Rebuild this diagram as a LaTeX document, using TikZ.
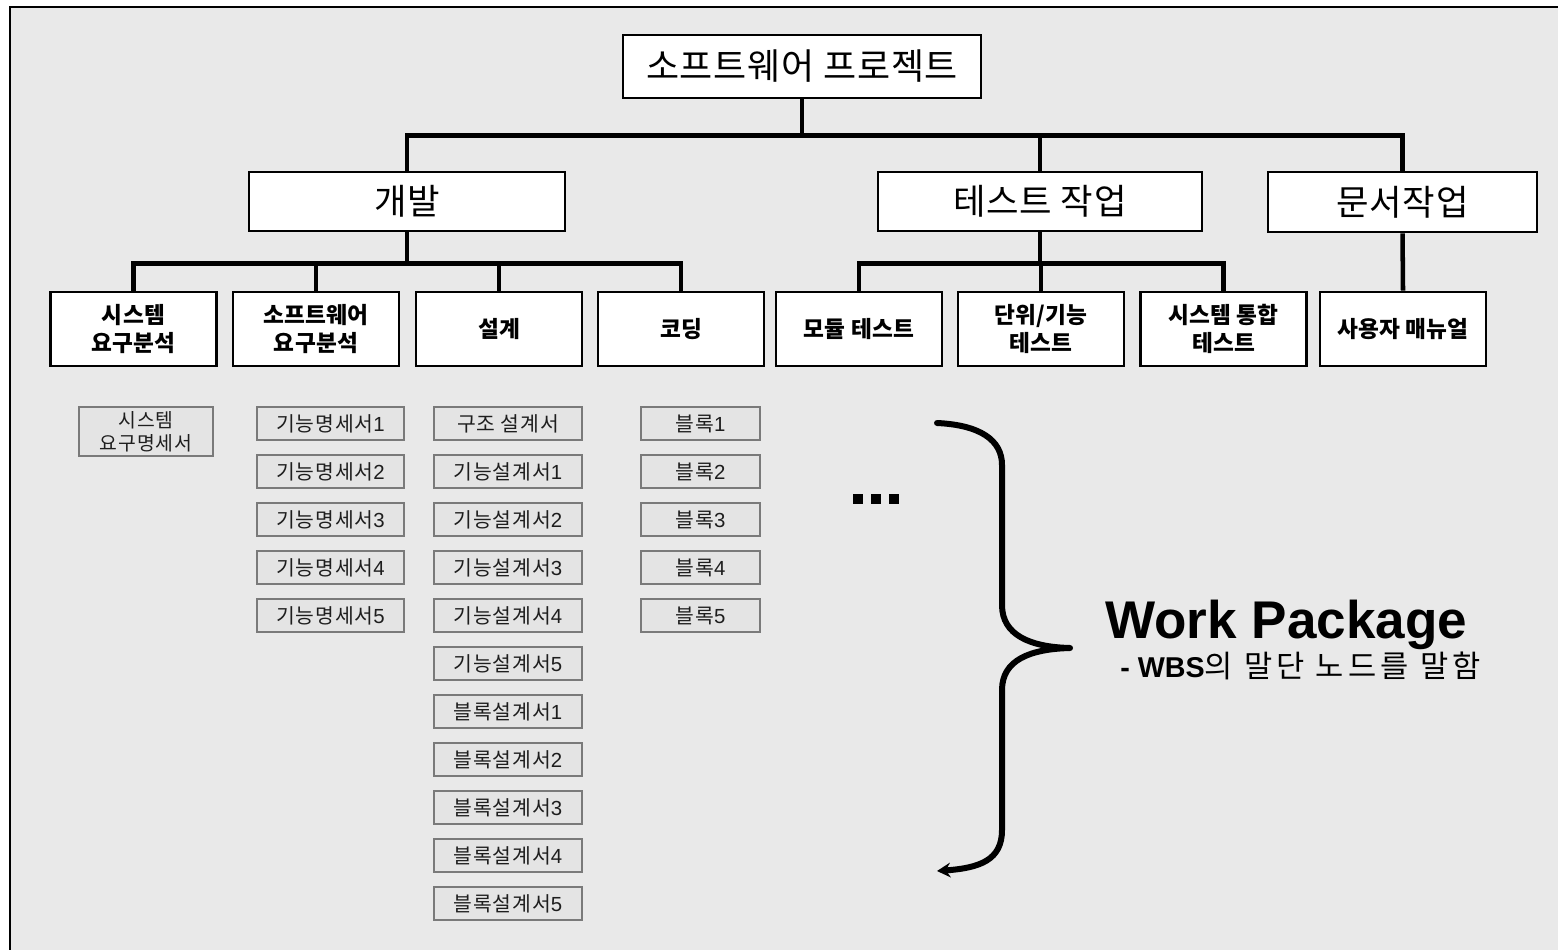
\documentclass[tikz,border=0pt]{standalone}
\usepackage{fontspec}
\setmainfont{Liberation Sans}
\newfontfamily\krA[LetterSpace=2]{Noto Sans CJK KR}
\newfontfamily\krB[LetterSpace=1]{Noto Sans CJK KR}
\newfontfamily\krC[LetterSpace=4]{Noto Sans CJK KR}
\newfontfamily\krD[LetterSpace=14]{Noto Sans CJK KR}
\usetikzlibrary{arrows.meta}
\definecolor{bgGray}{HTML}{E9E9E9}
\definecolor{leafFill}{HTML}{E4E4E4}
\definecolor{leafLine}{HTML}{7A7A7A}
\definecolor{leafText}{HTML}{1E1E1E}
\begin{document}
\begin{tikzpicture}[x=0.75pt,y=-0.75pt,
  bigbox/.style={draw=black, line width=2pt, fill=white, inner sep=0pt, minimum height=44.25pt,
    font=\krA\fontsize{26.5}{30}\selectfont},
  midbox/.style={draw=black, line width=2.2pt, fill=white, inner sep=0pt, minimum width=124.5pt,
    minimum height=55.5pt, align=center, font=\krB\bfseries\fontsize{17}{21.5}\selectfont},
  leaf/.style={draw=leafLine, line width=1.1pt, fill=leafFill, inner sep=0pt, minimum height=24.75pt,
    text=leafText, align=center, font=\fontsize{15.3}{17}\selectfont},
  conn/.style={line width=3.4pt},
]
\useasboundingbox (0,0) rectangle (1558,949);
\begin{scope}
\clip (0,0) rectangle (1558,949);
\fill[white] (0,0) rectangle (1558,949);
\draw[line width=2.2pt, fill=bgGray] (10,7) rectangle (1590,980);
\end{scope}

% level 1
\node[bigbox, minimum width=268.5pt, minimum height=47.25pt, font=\krA\fontsize{27}{30}\selectfont] (top) at (802,66.5) {소프트웨어 프로젝트};
% level 2
\node[bigbox, minimum width=237pt] (dev) at (407,201.5) {개발};
\node[bigbox, minimum width=243pt] (test) at (1040,201.5) {테스트 작업};
\node[bigbox, minimum width=201.75pt, minimum height=45pt] (doc) at (1402.5,202) {문서작업};
% level 3
\node[midbox] (sysreq) at (133.5,329) {시스템\\요구분석};
\node[midbox] (swreq) at (316,329) {소프트웨어\\요구분석};
\node[midbox] (design) at (499,329) {설계};
\node[midbox] (coding) at (681,329) {코딩};
\node[midbox] (modt) at (859,329) {모듈 테스트};
\node[midbox] (unitt) at (1041,329) {단위/기능\\테스트};
\node[midbox] (sysint) at (1223.5,329) {시스템 통합\\테스트};
\node[midbox] (manual) at (1403,329) {사용자 매뉴얼};

% connectors
\draw[conn] (top.south) -- ++(0,36) coordinate (j1);
\draw[conn] (dev.north) |- (j1) -| (doc.north);
\draw[conn] (test.north) -- (test.north |- j1);
\draw[conn] (dev.south) -- ++(0,31) coordinate (j2);
\draw[conn] (sysreq.north) |- (j2) -| (coding.north);
\draw[conn] (swreq.north) -- (swreq.north |- j2);
\draw[conn] (design.north) -- (design.north |- j2);
\draw[conn] (test.south) -- ++(0,31) coordinate (j3);
\draw[conn] (modt.north) |- (j3) -| (sysint.north);
\draw[conn] (unitt.north) -- (unitt.north |- j3);
\draw[conn] (doc.south) -- (manual.north);

% leaves
\node[leaf, minimum width=100.5pt, minimum height=36.75pt, font=\fontsize{14.5}{17}\selectfont] (sysspec) at (146,431.5) {\krC 시스템\\\krC 요구명세서};
\foreach \k in {1,...,5} {
  \node[leaf, minimum width=110.25pt] (f\k) at (330.5,{423.5+48*(\k-1)}) {{\krC 기능명세서}\k};
  \node[leaf, minimum width=89.25pt] (b\k) at (700.5,{423.5+48*(\k-1)}) {{\krC 블록}\k};
}
\node[leaf, minimum width=111pt] (d0) at (508,423.5) {\krC 구조 설계서};
\foreach \k in {1,...,5} {
  \node[leaf, minimum width=111pt] (d\k) at (508,{423.5+48*\k}) {{\krC 기능설계서}\k};
  \node[leaf, minimum width=111pt] (e\k) at (508,{423.5+48*(\k+5)}) {{\krC 블록설계서}\k};
}

% dots
\fill (853,494) rectangle ++(10,10);
\fill (871,494) rectangle ++(10,10);
\fill (889,494) rectangle ++(10,10);

% brace
\draw[line width=4.5pt, line cap=round, line join=round, -{Stealth[length=10pt, width=11pt]}]
  (937,423) .. controls (980,425) and (1002,440) .. (1002,465) -- (1002,605)
  .. controls (1002,635) and (1030,647) .. (1070,648)
  .. controls (1030,649) and (1002,660) .. (1002,690) -- (1002,830)
  .. controls (1002,860) and (980,868) .. (937,871);

% labels
\node[anchor=base west, inner sep=0pt, font=\bfseries\fontsize{39.8}{42}\selectfont] (wp) at (1105,638) {Work Package};
\node[anchor=base west, inner sep=0pt] (wps) at (1120,677) {{\bfseries\fontsize{21.5}{24}\selectfont - WBS}{\krD\fontsize{23}{26}\selectfont 의 말단 노드를 말함}};
\end{tikzpicture}
\end{document}
